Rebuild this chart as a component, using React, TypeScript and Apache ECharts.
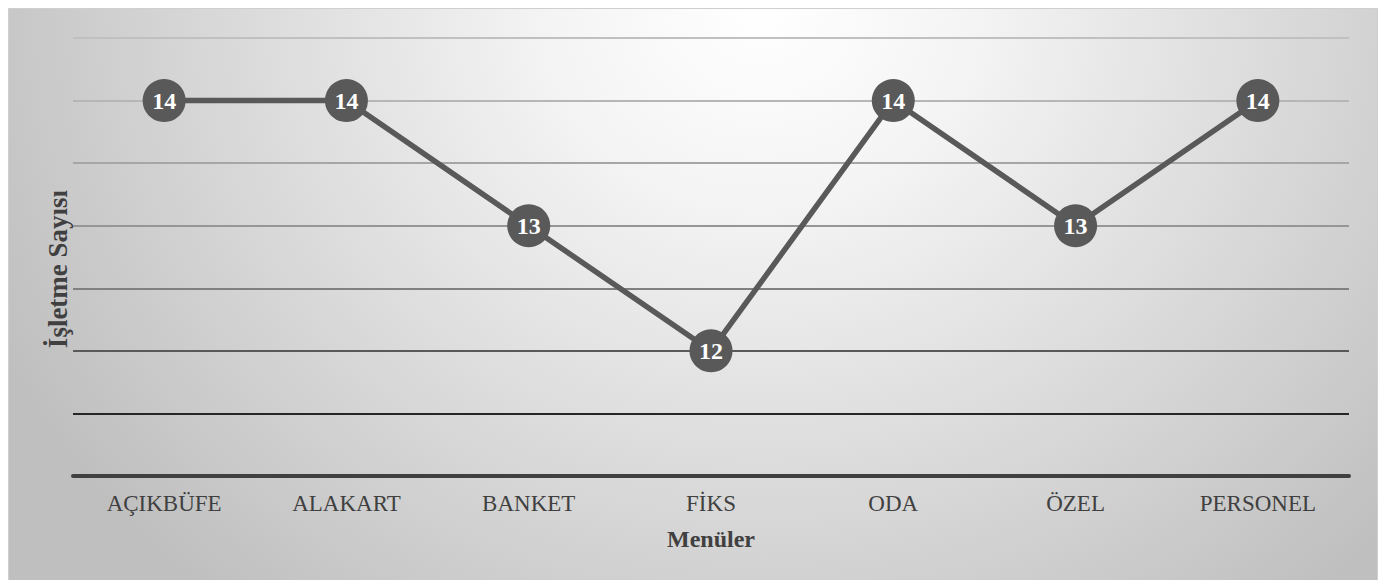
import React, { useEffect, useRef } from "react";
import * as echarts from "echarts";

const categories = ["AÇIKBÜFE", "ALAKART", "BANKET", "FİKS", "ODA", "ÖZEL", "PERSONEL"];
const values = [14, 14, 13, 12, 14, 13, 14];
const yMin = 11;
const yMax = 14.5;
const yInterval = 0.5;
const gridColors = ["#404040", "#262626", "#595959", "#808080", "#969696", "#a6a6a6", "#b6b6b6", "#c0c0c0"];

const FONT = "'Liberation Serif', 'Times New Roman', serif";

export default function App() {
  const ref = useRef<HTMLDivElement>(null);
  useEffect(() => {
    if (!ref.current) return;
    const chart = echarts.init(ref.current, undefined, { renderer: "svg" });
    chart.setOption({
      animation: false,
      backgroundColor: "transparent",
      grid: { left: 64, right: 28, top: 29, bottom: 105, containLabel: false },
      xAxis: {
        type: "category",
        data: categories,
        boundaryGap: true,
        name: "Menüler",
        nameLocation: "middle",
        nameGap: 51,
        nameTextStyle: { fontFamily: FONT, fontSize: 24, fontWeight: "bold", color: "#404040" },
        axisLine: { show: true, lineStyle: { color: "#404040", width: 4 } },
        axisTick: { show: false },
        axisLabel: { fontFamily: FONT, fontSize: 23, color: "#404040", margin: 16 },
        splitLine: { show: false },
      },
      yAxis: {
        type: "value",
        min: yMin,
        max: yMax,
        interval: yInterval,
        name: "İşletme Sayısı",
        nameLocation: "middle",
        nameGap: 2,
        nameRotate: 90,
        nameTextStyle: {
          fontFamily: FONT,
          fontSize: 27,
          fontWeight: "bold",
          color: "#404040",
          padding: [0, 24, 0, 0],
        },
        axisLine: { show: false },
        axisTick: { show: false },
        axisLabel: { show: false },
        splitLine: { show: true, lineStyle: { color: gridColors, width: 2 } },
      },
      series: [
        {
          type: "line",
          data: values,
          symbol: "circle",
          symbolSize: 43,
          lineStyle: { color: "#595959", width: 5.5 },
          itemStyle: { color: "#595959" },
          label: {
            show: true,
            position: "inside",
            color: "#ffffff",
            fontFamily: FONT,
            fontSize: 24,
            fontWeight: "bold",
          },
          z: 5,
        },
      ],
    });
    return () => chart.dispose();
  }, []);
  return (
    <div
      style={{
        width: 1370,
        height: 574,
        boxSizing: "border-box",
        border: "1px solid #cfcfcf",
        background: "radial-gradient(ellipse 62% 135% at 55% 0%, #ffffff 0%, #f4f4f4 25%, #bfbfbf 100%)",
      }}
    >
      <div ref={ref} style={{ width: 1368, height: 572 }} />
    </div>
  );
}
